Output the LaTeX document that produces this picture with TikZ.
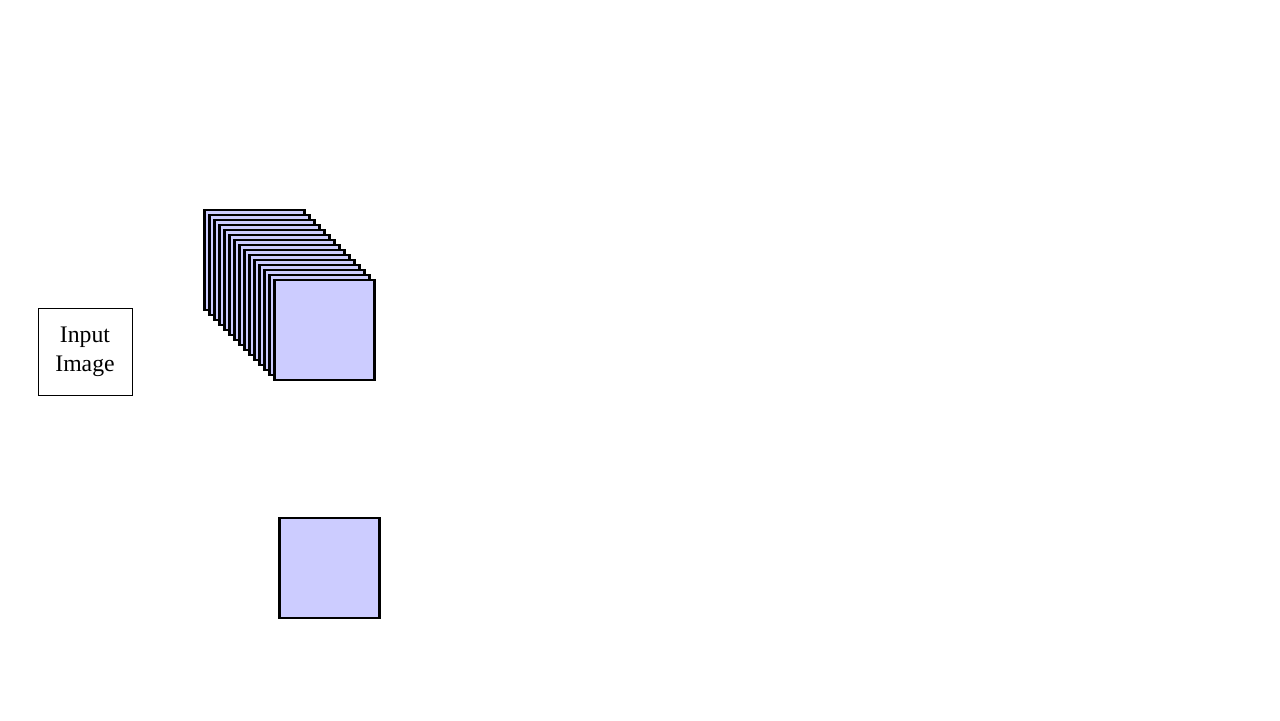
\documentclass[tikz,border=0pt]{standalone}
\usepackage{fontspec}
\setmainfont{Liberation Serif}
\usetikzlibrary{positioning}

\tikzset{
	inbox/.style={draw, line width=0.4pt, minimum width=1.88cm, minimum height=1.74cm, align=center, font=\fontsize{13.5}{16.5}\selectfont},
	fmap/.style={draw, line width=1.25pt, fill=blue!20, minimum size=2.0cm, inner sep=0pt}
}

\begin{document}
\begin{tikzpicture}
\useasboundingbox (0, 0) rectangle (25.6, 14.4);

\node[inbox] (input) at (1.70, 7.37) {Input\\Image};

% stack of feature maps
\foreach \i in {0, 1, ..., 14} {
	\node[fmap] (fm\i) at ({5.09 + 0.1*\i}, {9.2 - 0.1*\i}) {};
}

\node[fmap] (single) at (6.59, 3.04) {};
\end{tikzpicture}
\end{document}
